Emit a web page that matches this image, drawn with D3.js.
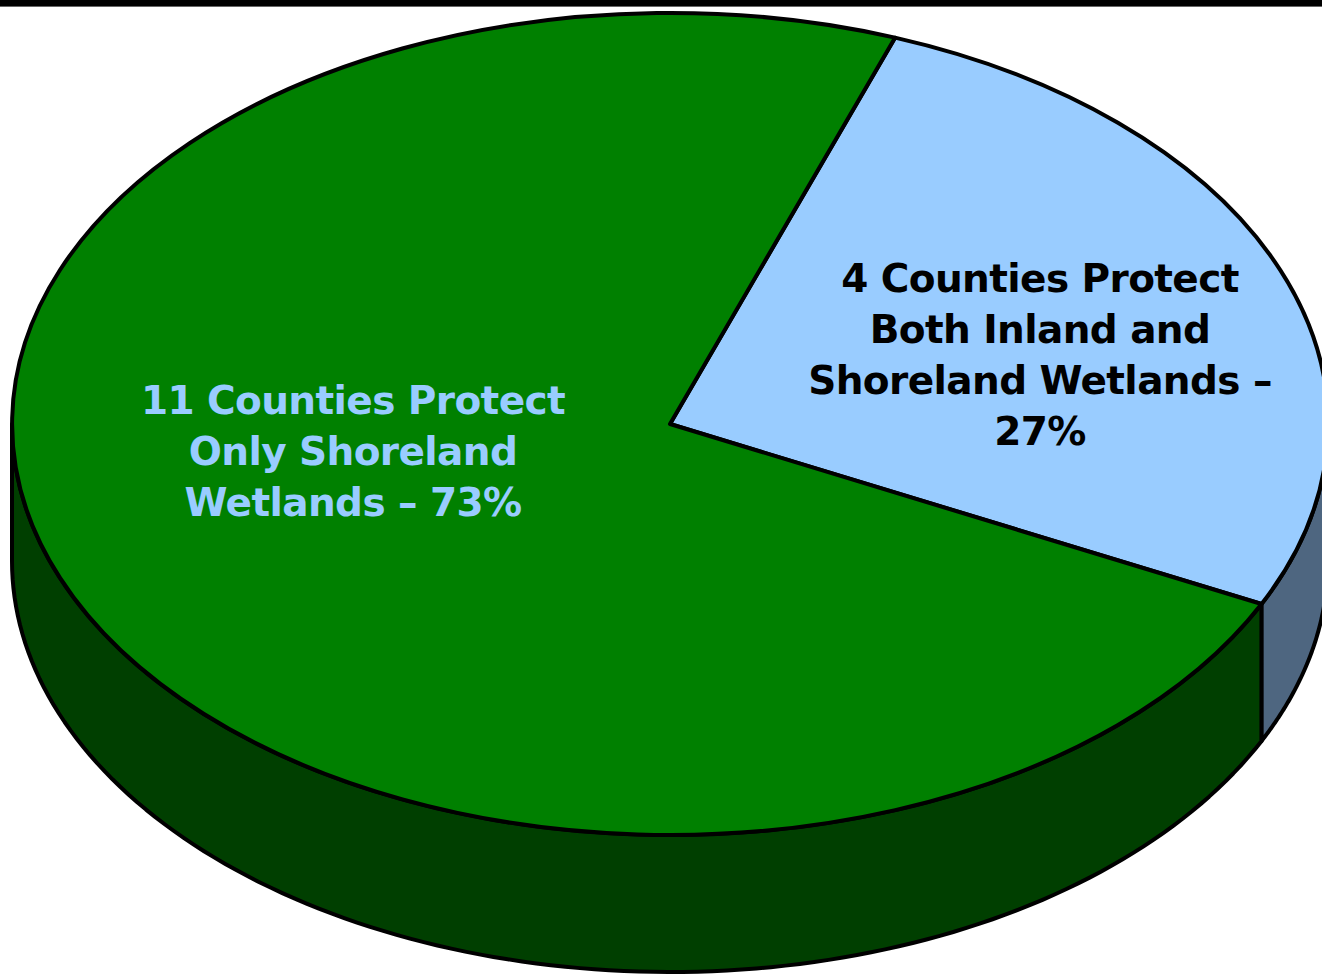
<!DOCTYPE html>
<html>
<head>
<meta charset="utf-8">
<script src="https://cdn.jsdelivr.net/npm/d3@7"></script>
<style>
  html, body { margin: 0; padding: 0; background: #ffffff; overflow: hidden; }
  svg { display: block; }
</style>
</head>
<body>
<svg id="chart" width="1322" height="976"></svg>
<script>
// County counts by wetland protection type
const categories = ["Only Shoreland Wetlands", "Both Inland and Shoreland Wetlands"];
const counties = [11, 4];
const topColors = ["#008000", "#99CCFF"];
const sideColors = ["#003F00", "#4E6680"];
const labelColors = ["#99CCFF", "#000000"];
// Label text lines; {n} = county count, {p} = rounded percent
const labelLines = [
  ["{n} Counties Protect", "Only Shoreland", "Wetlands \u2013 {p}%"],
  ["{n} Counties Protect", "Both Inland and", "Shoreland Wetlands \u2013", "{p}%"]
];

const W = 1322, H = 976;
const cx = 670, cy = 424, rx = 658, ry = 411, depth = 137;
const strokeW = 4;

const svg = d3.select("#chart");

// header rule
svg.append("rect").attr("x", 0).attr("y", 0).attr("width", W).attr("height", 6).attr("fill", "#000");
svg.append("rect").attr("x", 0).attr("y", 6).attr("width", W).attr("height", 1).attr("fill", "#666");

const total = d3.sum(counties);
const data = categories.map((c, i) => ({ name: c, count: counties[i], i }));

// blue slice first, rotated so that it begins a little right of 12 o'clock
const start = 20 * Math.PI / 180;
const pie = d3.pie().sort(null).value(d => d.count)
  .startAngle(start).endAngle(start + 2 * Math.PI);
const arcs = pie([data[1], data[0]]);

// elliptical projection of a pie angle (0 = top, clockwise)
const px = a => cx + rx * Math.sin(a);
const py = (a, dz = 0) => cy - ry * Math.cos(a) + dz;
const line = d3.line().x(d => d[0]).y(d => d[1]);

// outer walls: only the front half (angles PI/2 .. 3PI/2) faces the viewer
const wallG = svg.append("g");
arcs.forEach(a => {
  const lo = Math.max(a.startAngle, Math.PI / 2), hi = Math.min(a.endAngle, 3 * Math.PI / 2);
  if (hi <= lo) return;
  const n = 120;
  const ts = d3.range(n + 1).map(k => lo + (hi - lo) * k / n);
  const pts = ts.map(t => [px(t), py(t)])
    .concat(ts.slice().reverse().map(t => [px(t), py(t, depth)]));
  wallG.append("path")
    .attr("d", line(pts) + "Z")
    .attr("fill", sideColors[a.data.i])
    .attr("stroke", "#000")
    .attr("stroke-width", strokeW)
    .attr("stroke-linejoin", "round");
});

// top faces: unit-radius arcs stretched into the ellipse
const arcGen = d3.arc().innerRadius(0).outerRadius(1);
svg.append("g")
  .attr("transform", `translate(${cx},${cy}) scale(${rx},${ry})`)
  .selectAll("path")
  .data(arcs)
  .join("path")
  .attr("d", arcGen)
  .attr("fill", d => topColors[d.data.i])
  .attr("stroke", "#000")
  .attr("stroke-width", strokeW)
  .attr("stroke-linejoin", "round")
  .attr("vector-effect", "non-scaling-stroke");

// labels
const labelAnchor = [{ x: 353, y: 414 }, { x: 1040, y: 292 }];
const lineH = 51;
data.forEach(d => {
  const pct = Math.round(d.count / total * 100);
  const lines = labelLines[d.i].map(s => s.replace("{n}", d.count).replace("{p}", pct));
  const t = svg.append("text")
    .attr("text-anchor", "middle")
    .attr("font-family", "'DejaVu Sans', Verdana, sans-serif")
    .attr("font-weight", "bold")
    .attr("font-size", 39)
    .attr("letter-spacing", -0.6)
    .attr("fill", labelColors[d.i]);
  lines.forEach((s, k) => {
    t.append("tspan")
      .attr("x", labelAnchor[d.i].x)
      .attr("y", labelAnchor[d.i].y + k * lineH)
      .text(s);
  });
});
</script>
</body>
</html>
